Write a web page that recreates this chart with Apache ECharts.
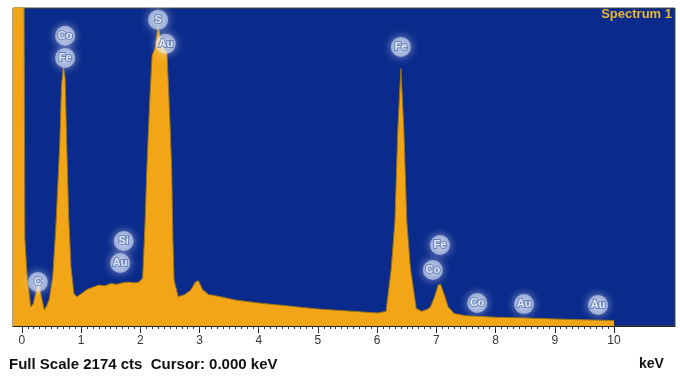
<!DOCTYPE html>
<html><head><meta charset="utf-8">
<script src="https://cdn.jsdelivr.net/npm/echarts@6/dist/echarts.min.js"></script>
<style>html,body{margin:0;padding:0;background:#fff}#c{width:680px;height:376px}</style>
</head><body><div id="c"></div>
<script>
// Spectrum (energy in keV, counts)
var energy = [-0.15, 0.03, 0.05, 0.09, 0.15, 0.19, 0.23, 0.28, 0.33, 0.38, 0.42, 0.46, 0.52, 0.57, 0.60, 0.64, 0.67, 0.70, 0.73, 0.76, 0.79, 0.83, 0.88, 0.93, 1.0, 1.1, 1.2, 1.3, 1.4, 1.5, 1.6, 1.7, 1.8, 1.9, 1.98, 2.04, 2.08, 2.11, 2.16, 2.2, 2.25, 2.3, 2.35, 2.4, 2.45, 2.5, 2.53, 2.55, 2.57, 2.64, 2.75, 2.85, 2.93, 2.98, 3.05, 3.15, 3.3, 3.6, 4.0, 4.5, 5.0, 5.5, 6.0, 6.15, 6.24, 6.30, 6.35, 6.40, 6.45, 6.50, 6.56, 6.66, 6.75, 6.85, 6.9, 6.97, 7.03, 7.07, 7.12, 7.2, 7.3, 7.5, 8.0, 8.5, 9.0, 9.5, 10.0];
var counts = [3000, 3000, 600, 330, 130, 150, 220, 290, 200, 110, 140, 180, 330, 650, 900, 1250, 1650, 1770, 1700, 1200, 750, 400, 220, 200, 220, 250, 265, 280, 275, 290, 285, 295, 300, 295, 300, 330, 700, 1070, 1550, 1850, 1900, 2050, 1950, 1900, 1870, 1400, 1070, 600, 315, 200, 215, 245, 300, 310, 250, 215, 205, 178, 157, 137, 116, 103, 89, 100, 400, 720, 1350, 1760, 1350, 720, 400, 120, 100, 115, 130, 200, 280, 285, 230, 130, 85, 70, 60, 55, 48, 42, 38];
// Element labels
var labelNames = ["Co", "Fe", "S", "Au", "Fe", "Si", "Au", "C", "Fe", "Co", "Co", "Au", "Au"];
var labelEnergy = [0.73, 0.73, 2.30, 2.43, 6.40, 1.72, 1.66, 0.27, 7.06, 6.94, 7.69, 8.48, 9.73];
var labelCounts = [1984, 1833, 2093, 1929, 1908, 581, 431, 301, 554, 383, 157, 150, 144];
// Axis ticks
var tickLabels = [0, 1, 2, 3, 4, 5, 6, 7, 8, 9, 10];
var fullScale = 2174;

var minorTicks = [];
for (var i = 0; i <= 100; i++) minorTicks.push(i / 10);

var spec = energy.map(function (e, i) { return [e, counts[i]]; });
var labs = labelNames.map(function (n, i) { return { name: n, value: [labelEnergy[i], labelCounts[i]] }; });

var chart = echarts.init(document.getElementById('c'));
chart.setOption({
  animation: false,
  backgroundColor: '#ffffff',
  grid: { left: 13, right: 5, top: 8, bottom: 50, show: true, backgroundColor: '#0b2b8c', borderColor: '#4a4a30', borderWidth: 1 },
  xAxis: [{
    type: 'value', min: -0.15, max: 11.03,
    axisLine: { show: true, onZero: false, lineStyle: { color: '#222', width: 1 } },
    axisTick: { show: true, customValues: tickLabels, length: 7, lineStyle: { color: '#222' } },
    axisLabel: { show: true, customValues: tickLabels, color: '#333', fontSize: 12, fontFamily: 'Liberation Sans', margin: 9 },
    splitLine: { show: false }
  }, {
    type: 'value', min: -0.15, max: 11.03, position: 'bottom',
    axisLine: { show: false },
    axisTick: { show: true, customValues: minorTicks, length: 3, lineStyle: { color: '#333' } },
    axisLabel: { show: false },
    splitLine: { show: false }
  }],
  yAxis: { type: 'value', min: 0, max: fullScale, show: false, splitLine: { show: false } },
  series: [{
    type: 'line', data: spec, symbol: 'none', clip: true, z: 2,
    lineStyle: { color: '#9a7414', width: 1 },
    areaStyle: { color: '#f2a516', opacity: 1 }
  }, {
    type: 'scatter', data: labs, symbol: 'circle', symbolSize: 20, z: 5,
    itemStyle: { color: 'rgba(225,238,255,0.7)', shadowBlur: 8, shadowColor: 'rgba(255,255,255,0.95)' },
    label: { show: true, position: 'inside', formatter: '{b}', color: '#ffffff', fontSize: 11, fontWeight: 'bold', fontFamily: 'Liberation Sans', textBorderColor: 'rgba(80,110,175,0.9)', textBorderWidth: 2 }
  }],
  graphic: [{
    type: 'text', right: 8, top: 8, z: 10,
    style: { text: 'Spectrum 1', fill: '#e8b830', font: 'bold 13px "Liberation Sans"' }
  }, {
    type: 'text', left: 9, top: 357,
    style: { text: 'Full Scale 2174 cts  Cursor: 0.000 keV', fill: '#111', font: 'bold 15px "Liberation Sans"' }
  }, {
    type: 'text', left: 639, top: 357,
    style: { text: 'keV', fill: '#111', font: 'bold 14px "Liberation Sans"' }
  }]
});
</script></body></html>
